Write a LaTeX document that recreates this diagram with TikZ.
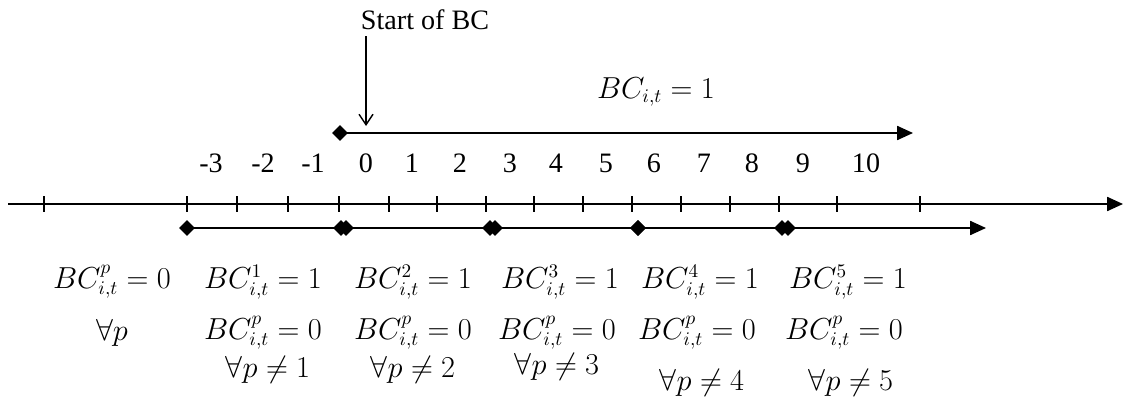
\documentclass[tikz,border=0pt]{standalone}
\usepackage{amsmath,amssymb}
\usepackage{fontspec}
\setmainfont{Liberation Serif}
\usetikzlibrary{arrows.meta}

\tikzset{
  axisline/.style={line width=0.9pt},
  tickmark/.style={line width=0.7pt},
  diam/.style={line width=0.9pt,shorten <=-4.5pt,shorten >=-4.5pt,
    {Diamond[length=9pt,width=9pt]}-{Diamond[length=9pt,width=9pt]}},
  diamarrow/.style={line width=0.9pt,shorten <=-4.5pt,
    {Diamond[length=9pt,width=9pt]}-{Triangle[length=9pt,width=8pt]}},
  num/.style={font=\fontsize{16}{19}\selectfont},
  eq/.style={font=\fontsize{16}{19}\selectfont,inner sep=0pt},
}

\begin{document}
\begin{tikzpicture}[x=0.02cm,y=-0.02cm]
\useasboundingbox (0,0) rectangle (1123,403);

% time axis
\coordinate (axl) at (8,204);
\coordinate (axr) at (1123,204);
\draw[axisline,-{Triangle[length=9pt,width=8pt]}] (axl) -- (axr);
\foreach \x in {44,187,237,288,339,389,437,486,534,583,632,681,730,779,837,920}
  \draw[tickmark] (\x,196) -- (\x,212);

% period numbers
\foreach \x/\t [count=\i] in {211/-3,263/-2,313/-1,366/0,412/1,460/2,510/3,556/4,606/5,654/6,704/7,752/8,803/9,866/10}
  \node[num] (num\i) at (\x,163) {\t};

% BC indicator
\coordinate (bcl) at (340,133);
\coordinate (bcr) at (913,133);
\draw[diamarrow] (bcl) -- (bcr);
\node[eq] (bcall) at (656,92) {$BC_{i,t}=1$};

% start of BC
\node[num] (start) at (425,20) {Start of BC};
\coordinate (bcstart) at (366,126);
\draw[line width=0.8pt,-{Straight Barb[length=6pt,width=8pt]}] (start.south -| bcstart) -- (bcstart);

% phases
\coordinate (p0) at (187,228);
\coordinate (p1a) at (341,228);
\coordinate (p1b) at (346,228);
\coordinate (p2a) at (490,228);
\coordinate (p2b) at (495,228);
\coordinate (p3) at (638,228);
\coordinate (p4a) at (782,228);
\coordinate (p4b) at (788,228);
\coordinate (pend) at (986,228);
\draw[diam] (p0) -- (p1a);
\draw[diam] (p1b) -- (p2a);
\draw[diam] (p2b) -- (p3);
\draw[diam] (p3) -- (p4a);
\draw[diamarrow] (p4b) -- (pend);

% phase labels
\node[eq] (ph0) at (112,282) {$BC_{i,t}^{p}=0$};
\node[eq] (ph1) at (263,282) {$BC_{i,t}^{1}=1$};
\node[eq] (ph2) at (413,282) {$BC_{i,t}^{2}=1$};
\node[eq] (ph3) at (560,282) {$BC_{i,t}^{3}=1$};
\node[eq] (ph4) at (700,282) {$BC_{i,t}^{4}=1$};
\node[eq] (ph5) at (848,282) {$BC_{i,t}^{5}=1$};

\node[eq] (ot0) at (112,333) {$\forall p$};
\node[eq] (ot1) at (263,333) {$BC_{i,t}^{p}=0$};
\node[eq] (ot2) at (413,333) {$BC_{i,t}^{p}=0$};
\node[eq] (ot3) at (557,333) {$BC_{i,t}^{p}=0$};
\node[eq] (ot4) at (697,333) {$BC_{i,t}^{p}=0$};
\node[eq] (ot5) at (844,333) {$BC_{i,t}^{p}=0$};

\node[eq] (ex1) at (268,370) {$\forall p\neq 1$};
\node[eq] (ex2) at (413,370) {$\forall p\neq 2$};
\node[eq] (ex3) at (557,367) {$\forall p\neq 3$};
\node[eq] (ex4) at (702,383) {$\forall p\neq 4$};
\node[eq] (ex5) at (851,383) {$\forall p\neq 5$};
\end{tikzpicture}
\end{document}
